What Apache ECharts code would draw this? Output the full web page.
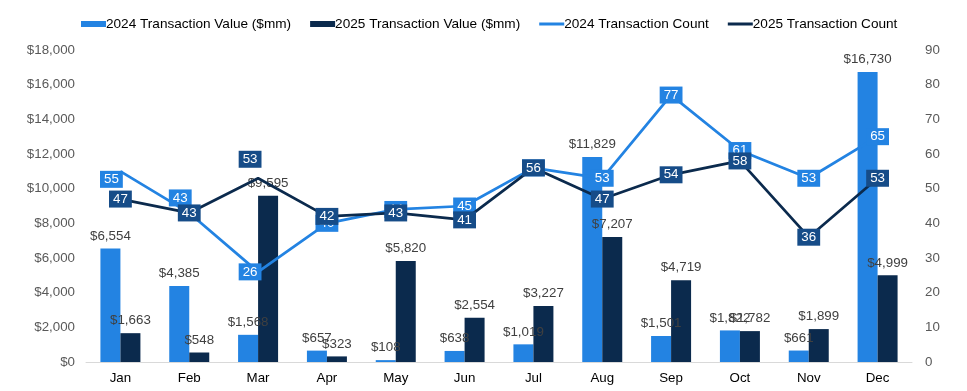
<!DOCTYPE html>
<html>
<head>
<meta charset="utf-8">
<script src="https://cdn.jsdelivr.net/npm/echarts@6/dist/echarts.min.js"></script>
<style>
html,body{margin:0;padding:0;background:#fff;}
#chart{width:967px;height:391px;}
</style>
</head>
<body>
<div id="chart"></div>
<script>
var months = ['Jan','Feb','Mar','Apr','May','Jun','Jul','Aug','Sep','Oct','Nov','Dec'];
var value2024 = [6554, 4385, 1568, 657, 108, 638, 1019, 11829, 1501, 1822, 661, 16730];
var value2025 = [1663, 548, 9595, 323, 5820, 2554, 3227, 7207, 4719, 1782, 1899, 4999];
var count2024 = [55, 43, 26, 40, 44, 45, 56, 53, 77, 61, 53, 65];
var count2025 = [47, 43, 53, 42, 43, 41, 56, 47, 54, 58, 36, 53];

var LIGHT = '#2383E2';
var DARK = '#0B2A4D';
var DARK_LABEL = '#164C88';
var FONT = '"Liberation Sans", Arial, sans-serif';
var FS = 13.33;
var LINE_ICON = 'path://M0,0L0.01,0L0.01,0.01Z M0,1.5L26,1.5L26,4.5L0,4.5Z M0,6L0.01,6L0.01,5.99Z';

// manual label nudges (as in the reference, some labels were moved off their points)
var offsets2024 = {0: [-9, 8], 1: [-9, -15], 2: [-8, 0]};
var offsets2025 = {2: [-8, -19]};

function nudge(offs) {
  return function (params) {
    var o = offs[params.dataIndex];
    return o ? {dx: o[0], dy: o[1], hideOverlap: false} : {hideOverlap: false};
  };
}

function money(v) {
  return '$' + Number(v).toLocaleString('en-US');
}

var chart = echarts.init(document.getElementById('chart'));
chart.setOption({
  animation: false,
  textStyle: {fontFamily: FONT},
  legend: {
    top: 17,
    left: 81,
    padding: 0,
    itemGap: 19,
    itemWidth: 25,
    itemHeight: 6,
    textStyle: {fontSize: 13.6, color: '#000', fontFamily: FONT, padding: [0, 0, 0, -5]},
    data: [
      {name: '2024 Transaction Value ($mm)', icon: 'rect'},
      {name: '2025 Transaction Value ($mm)', icon: 'rect'},
      {name: '2024 Transaction Count', icon: LINE_ICON},
      {name: '2025 Transaction Count', icon: LINE_ICON}
    ]
  },
  grid: {left: 86, right: 55, top: 50, bottom: 29, containLabel: false},
  xAxis: {
    type: 'category',
    data: months,
    axisTick: {show: false},
    axisLine: {lineStyle: {color: '#d9d9d9', width: 1}},
    axisLabel: {color: '#000', fontSize: FS, fontFamily: FONT, margin: 10}
  },
  yAxis: [
    {
      type: 'value', min: 0, max: 18000, interval: 2000,
      splitLine: {show: false},
      axisLine: {show: false}, axisTick: {show: false},
      axisLabel: {color: '#595959', fontSize: FS, fontFamily: FONT, margin: 11,
        formatter: function (v) { return money(v); }}
    },
    {
      type: 'value', min: 0, max: 90, interval: 10,
      splitLine: {show: false},
      axisLine: {show: false}, axisTick: {show: false},
      axisLabel: {color: '#595959', fontSize: FS, fontFamily: FONT, margin: 13}
    }
  ],
  series: [
    {
      name: '2024 Transaction Value ($mm)', type: 'bar', yAxisIndex: 0,
      data: value2024, barWidth: 20, barGap: '0%',
      itemStyle: {color: LIGHT},
      label: {show: true, position: 'top', distance: 6, color: '#404040', fontSize: FS, fontFamily: FONT,
        formatter: function (p) { return money(p.value); }},
      z: 2
    },
    {
      name: '2025 Transaction Value ($mm)', type: 'bar', yAxisIndex: 0,
      data: value2025, barWidth: 20, barGap: '0%',
      itemStyle: {color: DARK},
      label: {show: true, position: 'top', distance: 6, color: '#404040', fontSize: FS, fontFamily: FONT,
        formatter: function (p) { return money(p.value); }},
      z: 2
    },
    {
      name: '2024 Transaction Count', type: 'line', yAxisIndex: 1,
      data: count2024,
      symbol: 'circle', symbolSize: 1, showSymbol: true, showAllSymbol: true,
      lineStyle: {color: LIGHT, width: 2.75},
      itemStyle: {color: LIGHT},
      label: {show: true, position: 'inside', color: '#fff', fontSize: FS, fontFamily: FONT,
        backgroundColor: LIGHT, padding: [2, 4, 2, 4]},
      labelLayout: nudge(offsets2024),
      z: 3
    },
    {
      name: '2025 Transaction Count', type: 'line', yAxisIndex: 1,
      data: count2025,
      symbol: 'circle', symbolSize: 1, showSymbol: true, showAllSymbol: true,
      lineStyle: {color: DARK, width: 2.75},
      itemStyle: {color: DARK},
      label: {show: true, position: 'inside', color: '#fff', fontSize: FS, fontFamily: FONT,
        backgroundColor: DARK_LABEL, padding: [2, 4, 2, 4]},
      labelLayout: nudge(offsets2025),
      z: 4
    }
  ]
});
</script>
</body>
</html>
